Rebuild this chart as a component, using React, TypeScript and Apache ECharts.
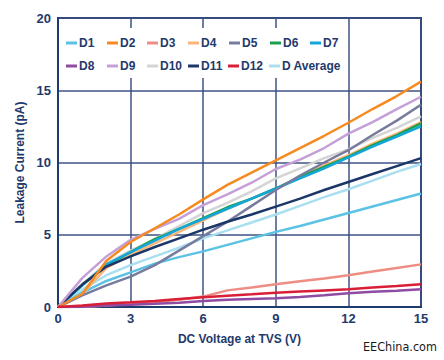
import React, { useEffect, useRef } from "react";
import * as echarts from "echarts";

const voltages = [0, 1, 2, 3, 4, 5, 6, 7, 8, 9, 10, 11, 12, 13, 14, 15];
const xTicks = [0, 3, 6, 9, 12, 15];
const yTicks = [0, 5, 10, 15, 20];

const d1 = [0, 1.0, 1.8, 2.4, 3.0, 3.45, 3.85, 4.3, 4.75, 5.2, 5.6, 6.05, 6.5, 6.95, 7.4, 7.85];
const d2 = [0, 0.9, 3.2, 4.5, 5.45, 6.4, 7.45, 8.45, 9.3, 10.15, 11.0, 11.85, 12.75, 13.7, 14.6, 15.6];
const d3 = [0, 0, 0.1, 0.2, 0.35, 0.5, 0.72, 1.15, 1.35, 1.57, 1.78, 1.98, 2.2, 2.45, 2.7, 2.95];
const d4 = [0, 0.9, 2.7, 3.6, 4.4, 5.2, 6.0, 6.8, 7.5, 8.2, 9.0, 9.8, 10.5, 11.3, 12.0, 12.8];
const d5 = [0, 0.8, 1.5, 2.1, 2.9, 3.9, 4.9, 5.9, 7.0, 8.1, 9.1, 10.0, 10.85, 11.9, 12.9, 14.0];
const d6 = [0, 1.5, 2.9, 3.8, 4.7, 5.4, 6.15, 6.9, 7.5, 8.2, 9.0, 9.7, 10.4, 11.2, 11.9, 12.7];
const d7 = [0, 1.5, 2.95, 3.8, 4.6, 5.4, 6.1, 6.8, 7.5, 8.2, 8.9, 9.6, 10.35, 11.1, 11.8, 12.5];
const d8 = [0, 0.02, 0.1, 0.15, 0.22, 0.3, 0.41, 0.5, 0.55, 0.6, 0.7, 0.82, 0.95, 1.05, 1.13, 1.22];
const d9 = [0, 2.0, 3.5, 4.65, 5.4, 6.1, 7.05, 7.8, 8.6, 9.55, 10.2, 11.0, 12.0, 12.8, 13.7, 14.55];
const d10 = [0, 1.6, 3.0, 3.9, 4.7, 5.6, 6.5, 7.2, 8.0, 8.9, 9.6, 10.3, 10.9, 11.7, 12.4, 13.2];
const d11 = [0, 1.55, 2.8, 3.5, 4.15, 4.75, 5.35, 5.9, 6.4, 6.95, 7.5, 8.1, 8.65, 9.2, 9.75, 10.3];
const d12 = [0, 0.1, 0.25, 0.33, 0.42, 0.55, 0.67, 0.78, 0.88, 0.99, 1.07, 1.15, 1.22, 1.35, 1.45, 1.57];
const dAvg = [0, 1.2, 2.2, 2.9, 3.5, 4.1, 4.75, 5.3, 5.85, 6.4, 7.0, 7.6, 8.15, 8.75, 9.35, 9.9];

const seriesNames = ["D1", "D2", "D3", "D4", "D5", "D6", "D7", "D8", "D9", "D10", "D11", "D12", "D Average"];
const seriesValues = [d1, d2, d3, d4, d5, d6, d7, d8, d9, d10, d11, d12, dAvg];
const seriesColors = [
  "#5bc2e4", "#f68a1f", "#ee8d84", "#fbb57c", "#777c9e", "#1aa04c", "#12a7d8",
  "#8e4ca3", "#c5a0d8", "#d4d4d4", "#1b3767", "#d81f37", "#a9dff0",
];
const drawOrder = [12, 0, 9, 3, 5, 6, 4, 10, 8, 1, 2, 7, 11];

const legendLeft = [66, 107, 147, 188, 229, 270, 310, 66, 107, 147, 188, 228, 269];
const legendTop = [37, 37, 37, 37, 37, 37, 37, 60, 60, 60, 60, 60, 60];

const NAVY = "#1f3a6c";
const GRID = "#3e5283";

export default function App() {
  const ref = useRef<HTMLDivElement>(null);
  useEffect(() => {
    if (!ref.current) return;
    const chart = echarts.init(ref.current, undefined, { renderer: "svg" });
    const series = drawOrder.map((i) => ({
      name: seriesNames[i],
      type: "line",
      data: voltages.map((v, k) => [v, seriesValues[i][k]]),
      symbol: "none",
      lineStyle: { color: seriesColors[i], width: 2.5 },
      itemStyle: { color: seriesColors[i] },
      z: 2,
    }));
    const legends = seriesNames.map((n, i) => ({
      data: [{ name: n, icon: "rect" }],
      left: legendLeft[i],
      top: legendTop[i],
      padding: 0,
      itemWidth: 11,
      itemHeight: 3,
      itemGap: 0,
      z: 20,
      selectedMode: false,
      textStyle: { color: NAVY, fontWeight: "bold", fontSize: 12, fontFamily: "Liberation Sans, Arial, sans-serif", padding: [0, 0, 0, -3] },
    }));
    chart.setOption({
      animation: false,
      backgroundColor: "#ffffff",
      grid: {
        left: 58, right: 23, top: 18, bottom: 53,
        show: true, borderColor: NAVY, borderWidth: 2, backgroundColor: "transparent",
      },
      xAxis: {
        type: "value", min: 0, max: 15, interval: 3,
        name: "DC Voltage at TVS (V)", nameLocation: "middle", nameGap: 26,
        nameTextStyle: { color: NAVY, fontWeight: "bold", fontSize: 12, fontFamily: "Liberation Sans, Arial, sans-serif" },
        axisLine: { show: true, lineStyle: { color: NAVY, width: 2 } },
        axisTick: { show: false },
        axisLabel: {
          color: NAVY, fontWeight: "bold", fontSize: 13, margin: 5,
          fontFamily: "Liberation Sans, Arial, sans-serif",
          formatter: (v: number) => (xTicks.includes(v) ? String(v) : ""),
        },
        splitLine: { show: true, lineStyle: { color: GRID, width: 1.5 } },
      },
      yAxis: {
        type: "value", min: 0, max: 20, interval: 5,
        name: "Leakage Current (pA)", nameLocation: "middle", nameGap: 24,
        nameTextStyle: { color: NAVY, fontWeight: "bold", fontSize: 12, fontFamily: "Liberation Sans, Arial, sans-serif" },
        axisLine: { show: true, lineStyle: { color: NAVY, width: 2 } },
        axisTick: { show: false },
        axisLabel: {
          color: NAVY, fontWeight: "bold", fontSize: 13, margin: 7,
          fontFamily: "Liberation Sans, Arial, sans-serif",
          formatter: (v: number) => (yTicks.includes(v) ? String(v) : ""),
        },
        splitLine: { show: true, lineStyle: { color: GRID, width: 1.5 } },
      },
      legend: legends,
      graphic: [
        {
          type: "rect", z: 10,
          shape: { x: 62, y: 28, width: 282, height: 50 },
          style: { fill: "#ffffff" },
        },
        {
          type: "text", z: 10, left: 363, top: 340,
          style: { text: "EEChina.com", fill: "#1a1a1a", fontSize: 12.5, fontFamily: "DejaVu Sans Condensed, Liberation Sans, sans-serif" },
        },
      ],
      series,
    });
    return () => chart.dispose();
  }, []);
  return <div ref={ref} style={{ width: 444, height: 360, position: "absolute", left: 0, top: 0 }} />;
}
